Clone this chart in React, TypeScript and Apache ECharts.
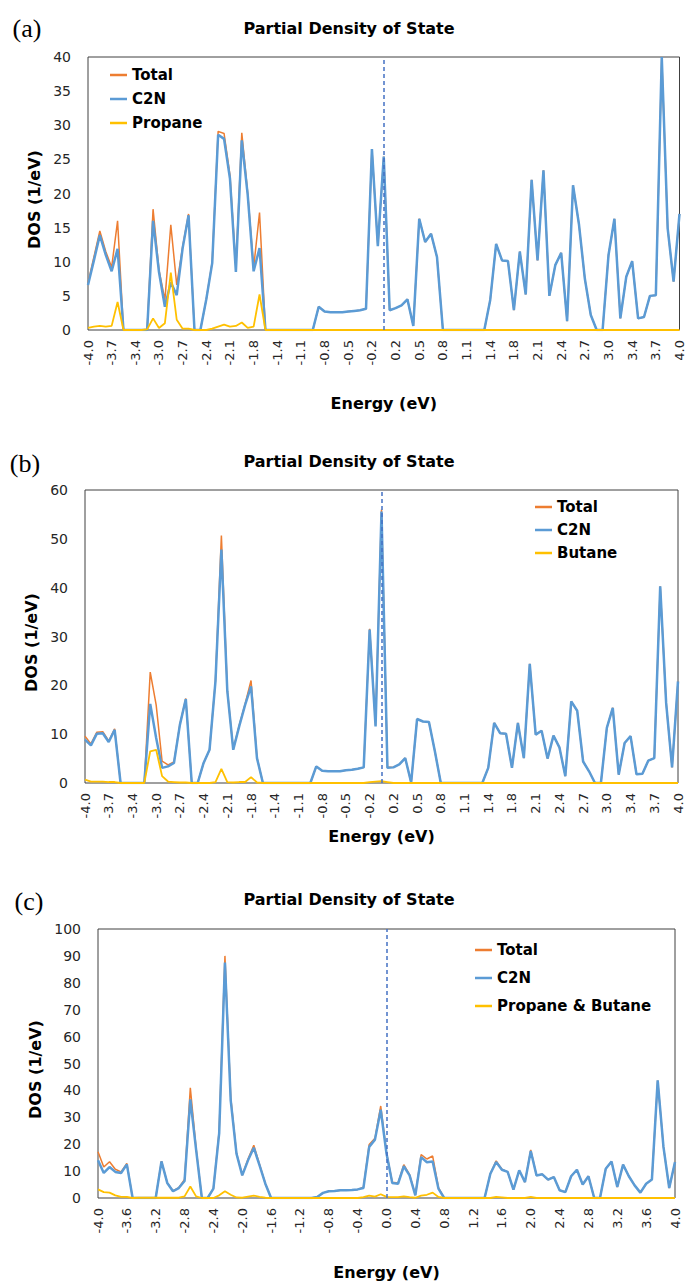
import React, { useEffect, useRef } from "react";
import * as echarts from "echarts";

// Energy grid (eV): 101 points from -4.0 to 4.0, step 0.08
const energies: string[] = Array.from({ length: 101 }, (_, i) => ((i * 8 - 400) / 100).toFixed(1));

// ---------- Panel (a): C2N + Propane ----------
const aC2N = [
  6.6, 10.2, 13.9, 11.0, 8.6, 11.9, 0, 0, 0, 0,
  0, 16.0, 8.5, 3.4, 7.0, 5.1, 12.0, 16.8, 0, 0,
  4.5, 9.8, 28.6, 28.0, 22.2, 8.5, 27.8, 19.8, 8.6, 12.0,
  0, 0, 0, 0, 0, 0, 0, 0, 0, 3.4,
  2.7, 2.6, 2.6, 2.6, 2.7, 2.8, 2.9, 3.1, 26.5, 12.3,
  25.4, 2.9, 3.2, 3.6, 4.5, 0.6, 16.3, 12.9, 14.1, 10.7,
  0, 0, 0, 0, 0, 0, 0, 0, 4.4, 12.6,
  10.2, 10.1, 2.9, 11.5, 5.2, 22.0, 10.2, 23.4, 5.0, 9.5,
  11.3, 1.3, 21.2, 15.5, 7.5, 2.2, 0, 0, 11.0, 16.3,
  1.7, 7.8, 10.1, 1.7, 1.9, 5.0, 5.1, 40.0, 14.9, 7.1,
  17.0,
];
const aPropane = [
  0.3, 0.5, 0.6, 0.5, 0.6, 4.1, 0, 0, 0, 0,
  0.1, 1.7, 0.3, 1.0, 8.4, 1.5, 0.2, 0.2, 0, 0,
  0, 0.2, 0.5, 0.8, 0.5, 0.6, 1.1, 0.3, 0.5, 5.2,
  0, 0, 0, 0, 0, 0, 0, 0, 0, 0,
  0, 0, 0, 0, 0, 0, 0, 0, 0, 0,
  0, 0, 0, 0, 0, 0, 0, 0, 0, 0,
  0, 0, 0, 0, 0, 0, 0, 0, 0, 0,
  0, 0, 0, 0, 0, 0, 0, 0, 0, 0,
  0, 0, 0, 0, 0, 0, 0, 0, 0, 0,
  0, 0, 0, 0, 0, 0, 0, 0, 0, 0,
  0,
];
const aTotal = [
  6.9, 10.7, 14.5, 11.5, 9.2, 16.0, 0, 0, 0, 0,
  0.1, 17.7, 8.8, 4.4, 15.4, 6.6, 12.2, 17.0, 0, 0,
  4.5, 10.0, 29.1, 28.8, 22.7, 9.1, 28.9, 20.1, 9.1, 17.2,
  0, 0, 0, 0, 0, 0, 0, 0, 0, 3.4,
  2.7, 2.6, 2.6, 2.6, 2.7, 2.8, 2.9, 3.1, 26.5, 12.3,
  25.4, 2.9, 3.2, 3.6, 4.5, 0.6, 16.3, 12.9, 14.1, 10.7,
  0, 0, 0, 0, 0, 0, 0, 0, 4.4, 12.6,
  10.2, 10.1, 2.9, 11.5, 5.2, 22.0, 10.2, 23.4, 5.0, 9.5,
  11.3, 1.3, 21.2, 15.5, 7.5, 2.2, 0, 0, 11.0, 16.3,
  1.7, 7.8, 10.1, 1.7, 1.9, 5.0, 5.1, 40.0, 14.9, 7.1,
  17.0,
];

// ---------- Panel (b): C2N + Butane ----------
const bC2N = [
  8.9, 7.7, 10.1, 10.2, 8.4, 10.9, 0, 0, 0, 0,
  0, 16.2, 9.2, 3.1, 3.4, 4.1, 11.9, 17.2, 0, 0,
  4.1, 6.8, 20.8, 47.8, 18.8, 6.8, 11.6, 16.0, 19.8, 5.1,
  0, 0, 0, 0, 0, 0, 0, 0, 0, 3.4,
  2.5, 2.4, 2.4, 2.4, 2.6, 2.7, 2.9, 3.2, 31.4, 11.6,
  55.6, 3.1, 3.2, 3.8, 5.1, 0.1, 13.1, 12.6, 12.5, 6.5,
  0, 0, 0, 0, 0, 0, 0, 0, 3.1, 12.3,
  10.2, 10.1, 3.1, 12.3, 5.1, 24.4, 9.9, 10.7, 5.0, 9.7,
  7.3, 1.4, 16.7, 14.8, 4.4, 2.4, 0, 0, 11.3, 15.4,
  1.7, 8.2, 9.6, 1.8, 1.9, 4.6, 5.1, 40.3, 16.4, 3.2,
  20.8,
];
const bButane = [
  0.7, 0.3, 0.3, 0.3, 0.2, 0.2, 0, 0, 0, 0,
  0, 6.5, 6.8, 1.4, 0.3, 0.2, 0.1, 0.1, 0, 0,
  0, 0, 0.2, 2.9, 0.2, 0.1, 0.2, 0.2, 1.2, 0.1,
  0, 0, 0, 0, 0, 0, 0, 0, 0, 0,
  0, 0, 0, 0, 0, 0, 0, 0, 0.2, 0.3,
  0.4, 0.2, 0, 0, 0, 0, 0, 0, 0, 0,
  0, 0, 0, 0, 0, 0, 0, 0, 0, 0,
  0, 0, 0, 0, 0, 0, 0, 0, 0, 0,
  0, 0, 0, 0, 0, 0, 0, 0, 0, 0,
  0, 0, 0, 0, 0, 0, 0, 0, 0, 0,
  0,
];
const bTotal = [
  9.6, 8.0, 10.4, 10.5, 8.6, 11.1, 0, 0, 0, 0,
  0, 22.7, 16.0, 4.5, 3.7, 4.3, 12.0, 17.3, 0, 0,
  4.1, 6.8, 21.0, 50.7, 19.0, 6.9, 11.8, 16.2, 21.0, 5.2,
  0, 0, 0, 0, 0, 0, 0, 0, 0, 3.4,
  2.5, 2.4, 2.4, 2.4, 2.6, 2.7, 2.9, 3.2, 31.6, 11.9,
  56.0, 3.3, 3.2, 3.8, 5.1, 0.1, 13.1, 12.6, 12.5, 6.5,
  0, 0, 0, 0, 0, 0, 0, 0, 3.1, 12.3,
  10.2, 10.1, 3.1, 12.3, 5.1, 24.4, 9.9, 10.7, 5.0, 9.7,
  7.3, 1.4, 16.7, 14.8, 4.4, 2.4, 0, 0, 11.3, 15.4,
  1.7, 8.2, 9.6, 1.8, 1.9, 4.6, 5.1, 40.3, 16.4, 3.2,
  20.8,
];

// ---------- Panel (c): C2N + Propane & Butane ----------
const cC2N = [
  14.0, 9.3, 11.5, 9.7, 9.3, 12.5, 0, 0, 0, 0,
  0, 13.6, 5.6, 2.5, 3.7, 6.3, 36.7, 18.0, 0, 0,
  3.5, 24.0, 87.5, 36.3, 16.5, 8.4, 14.0, 18.7, 12.1, 5.3,
  0, 0, 0, 0, 0, 0, 0, 0, 0.4, 1.9,
  2.5, 2.6, 2.9, 2.9, 3.0, 3.2, 3.7, 19.0, 21.7, 32.8,
  16.5, 5.6, 5.3, 11.8, 8.4, 1.0, 15.2, 13.3, 13.6, 3.5,
  0, 0, 0, 0, 0, 0, 0, 0, 9.0, 13.4,
  10.5, 9.7, 3.1, 10.3, 5.9, 17.5, 8.4, 8.8, 6.8, 7.8,
  2.9, 2.2, 8.1, 10.5, 5.0, 8.1, 0, 0, 10.9, 13.6,
  4.1, 12.4, 8.1, 4.7, 2.0, 5.3, 6.9, 43.7, 19.0, 3.7,
  13.4,
];
const cAdsorbate = [
  3.2, 2.2, 2.0, 1.0, 0.4, 0.4, 0, 0.1, 0.1, 0.1,
  0.1, 0.1, 0.1, 0.1, 0.1, 0.6, 4.3, 0.6, 0, 0,
  0, 1.0, 2.5, 1.2, 0.2, 0.1, 0.5, 0.9, 0.4, 0.1,
  0, 0, 0, 0, 0, 0, 0, 0, 0, 0,
  0, 0, 0, 0, 0, 0, 0.3, 0.9, 0.5, 1.4,
  0.4, 0.3, 0.3, 0.6, 0.3, 0.1, 0.9, 1.2, 2.0, 0.4,
  0, 0, 0, 0, 0, 0, 0, 0, 0, 0.4,
  0.2, 0, 0, 0, 0, 0.4, 0, 0, 0, 0,
  0, 0, 0, 0, 0, 0, 0, 0, 0, 0,
  0, 0, 0, 0, 0, 0, 0, 0, 0, 0,
  0,
];
const cTotal = [
  17.2, 11.5, 13.5, 10.7, 9.7, 12.9, 0, 0.1, 0.1, 0.1,
  0.1, 13.7, 5.7, 2.6, 3.8, 6.9, 41.0, 18.6, 0, 0,
  3.5, 25.0, 90.0, 37.5, 16.7, 8.5, 14.5, 19.6, 12.5, 5.4,
  0, 0, 0, 0, 0, 0, 0, 0, 0.4, 1.9,
  2.5, 2.6, 2.9, 2.9, 3.0, 3.2, 4.0, 19.9, 22.2, 34.2,
  16.9, 5.9, 5.6, 12.4, 8.7, 1.1, 16.1, 14.5, 15.6, 3.9,
  0, 0, 0, 0, 0, 0, 0, 0, 9.0, 13.8,
  10.7, 9.7, 3.1, 10.3, 5.9, 17.9, 8.4, 8.8, 6.8, 7.8,
  2.9, 2.2, 8.1, 10.5, 5.0, 8.1, 0, 0, 10.9, 13.6,
  4.1, 12.4, 8.1, 4.7, 2.0, 5.3, 6.9, 43.7, 19.0, 3.7,
  13.4,
];

const adsorbateNames = ["Propane", "Butane", "Propane & Butane"];
const panelLetters = ["(a)", "(b)", "(c)"];
const yMax = [40, 60, 100];
const yStep = [5, 10, 10];
const labelEvery = [3, 3, 4];

const FONT = "'DejaVu Sans', sans-serif";
const ORANGE = "#ED7D31";
const BLUE = "#5B9BD5";
const YELLOW = "#FFC000";

export default function App() {
  const ref = useRef<HTMLDivElement>(null);

  useEffect(() => {
    if (!ref.current) return;
    const chart = echarts.init(ref.current, undefined, { renderer: "svg" });

    const grids = [
      { left: 88, top: 57, width: 593, height: 273 },
      { left: 85, top: 490, width: 593, height: 293 },
      { left: 98, top: 929, width: 577, height: 269 },
    ];
    const xNameGap = [65, 45, 66];
    const yNameGap = [44, 42, 53];
    const legendPos = [
      { left: 110, top: 66, itemGap: 6 },
      { left: 535, top: 498, itemGap: 5 },
      { left: 475, top: 941, itemGap: 10 },
    ];
    const titleY = [28, 461, 899];
    const letterPos = [
      [27, 28],
      [25, 463],
      [29, 901],
    ];
    const data = [
      [aTotal, aC2N, aPropane],
      [bTotal, bC2N, bButane],
      [cTotal, cC2N, cAdsorbate],
    ];

    const series: any[] = [];
    data.forEach((d, k) => {
      series.push({
        type: "line",
        name: "Total",
        xAxisIndex: k,
        yAxisIndex: k,
        data: d[0],
        symbol: "none",
        lineStyle: { color: ORANGE, width: 1.5 },
        itemStyle: { color: ORANGE },
        z: 2,
      });
      series.push({
        type: "line",
        name: "C2N",
        xAxisIndex: k,
        yAxisIndex: k,
        data: d[1],
        symbol: "none",
        lineStyle: { color: BLUE, width: 2.5 },
        itemStyle: { color: BLUE },
        z: 3,
        markLine: {
          silent: true,
          symbol: ["none", "none"],
          label: { show: false },
          lineStyle: { type: [4, 3], color: "#4472C4", width: 1.5 },
          data: [{ xAxis: "0.0" }],
        },
      });
      series.push({
        type: "line",
        name: adsorbateNames[k],
        xAxisIndex: k,
        yAxisIndex: k,
        data: d[2],
        symbol: "none",
        lineStyle: { color: YELLOW, width: 1.8 },
        itemStyle: { color: YELLOW },
        z: 4,
      });
    });

    const option: any = {
      animation: false,
      backgroundColor: "#ffffff",
      grid: grids.map((g) => ({
        ...g,
        show: true,
        borderColor: "#404040",
        borderWidth: 1,
        backgroundColor: "transparent",
      })),
      xAxis: grids.map((_, k) => ({
        type: "category",
        gridIndex: k,
        data: energies,
        boundaryGap: false,
        axisLine: { show: false },
        axisTick: { show: false },
        splitLine: { show: false },
        axisLabel: {
          interval: labelEvery[k],
          rotate: 90,
          fontSize: 13,
          fontFamily: FONT,
          color: "#262626",
          margin: 10,
        },
        name: "Energy (eV)",
        nameLocation: "middle",
        nameGap: xNameGap[k],
        nameTextStyle: { fontSize: 16, fontWeight: "bold", fontFamily: FONT, color: "#000" },
      })),
      yAxis: grids.map((_, k) => ({
        type: "value",
        gridIndex: k,
        min: 0,
        max: yMax[k],
        interval: yStep[k],
        axisLine: { show: false },
        axisTick: { show: false },
        splitLine: { show: false },
        axisLabel: { fontSize: 14, fontFamily: FONT, color: "#262626", margin: 17 },
        name: "DOS (1/eV)",
        nameLocation: "middle",
        nameRotate: 90,
        nameGap: yNameGap[k],
        nameTextStyle: {
          fontSize: 16,
          fontWeight: "bold",
          fontFamily: FONT,
          color: "#000",
          padding: [0, 12, 0, 0],
        },
      })),
      legend: legendPos.map((p, k) => ({
        left: p.left,
        top: p.top,
        orient: "vertical",
        itemGap: p.itemGap,
        itemWidth: 17,
        itemHeight: 2.5,
        icon: "rect",
        padding: 0,
        selectedMode: false,
        data: ["Total", "C2N", adsorbateNames[k]],
        textStyle: { fontFamily: FONT, fontWeight: "bold", fontSize: 15, color: "#000", lineHeight: 18 },
      })),
      graphic: [
        ...titleY.map((y) => ({
          type: "text",
          x: 349,
          y,
          style: {
            text: "Partial Density of State",
            fontFamily: FONT,
            fontWeight: "bold",
            fontSize: 16,
            fill: "#000",
            textAlign: "center",
            textVerticalAlign: "middle",
          },
        })),
        ...letterPos.map((p, k) => ({
          type: "text",
          x: p[0],
          y: p[1],
          style: {
            text: panelLetters[k],
            fontFamily: "'Liberation Serif', serif",
            fontSize: 26,
            fill: "#000",
            textAlign: "center",
            textVerticalAlign: "middle",
          },
        })),
      ],
      series,
    };

    chart.setOption(option);
    return () => chart.dispose();
  }, []);

  return (
    <div
      ref={ref}
      style={{ position: "absolute", left: 0, top: 0, width: 686, height: 1283, background: "#fff" }}
    />
  );
}
